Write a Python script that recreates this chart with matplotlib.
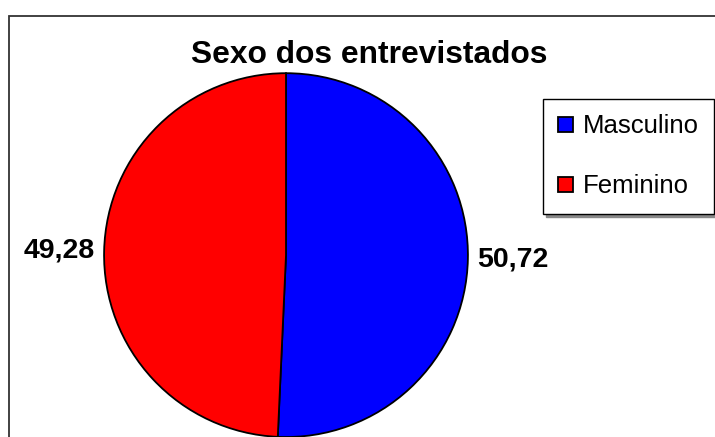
import matplotlib
matplotlib.use("Agg")
import matplotlib.pyplot as plt
from matplotlib.patches import Rectangle

plt.rcParams['font.family'] = ['Liberation Sans', 'DejaVu Sans']

# data
categorias = ['Masculino', 'Feminino']
percentuais = [50.72, 49.28]
cores = ['#0000FF', '#FF0000']
rotulos = [f'{v:.2f}'.replace('.', ',') for v in percentuais]

fig = plt.figure(figsize=(7.15, 4.37), dpi=100)

# outer chart frame (cut at right/bottom like the original)
fig.patches.append(Rectangle((9 / 715, -0.1), 1.2, 0.1 + (437 - 16) / 437,
                             transform=fig.transFigure, fill=False,
                             edgecolor='#333333', linewidth=1.3))

ax = fig.add_axes([0.0691, -0.125, 0.6618, 1.0824])
wedges, textos = ax.pie(percentuais, labels=rotulos, colors=cores,
                        startangle=90, counterclock=False,
                        labeldistance=1.05,
                        wedgeprops=dict(edgecolor='black', linewidth=1.3),
                        textprops=dict(fontsize=20.5, fontweight='bold'))
ax.set_xlim(-1.3, 1.3)
ax.set_ylim(-1.3, 1.3)
ax.set_aspect('equal')
ax.axis('off')

fig.text(369 / 715, 1 - 55 / 437, 'Sexo dos entrevistados',
         ha='center', va='center', fontsize=22.9, fontweight='bold')

leg = fig.legend(wedges, categorias, loc='upper left',
                 bbox_to_anchor=(543 / 715, 1 - 99 / 437),
                 borderaxespad=0, fancybox=False,
                 shadow=dict(ox=2, oy=-2, color='#888888', alpha=1),
                 edgecolor='black', fontsize=18.5, handlelength=0.55,
                 handleheight=0.55, handletextpad=0.4, labelspacing=1.4,
                 borderpad=0.6, framealpha=1)
leg.get_frame().set_linewidth(1.0)

fig.savefig('out.png', dpi=100, facecolor='white')
